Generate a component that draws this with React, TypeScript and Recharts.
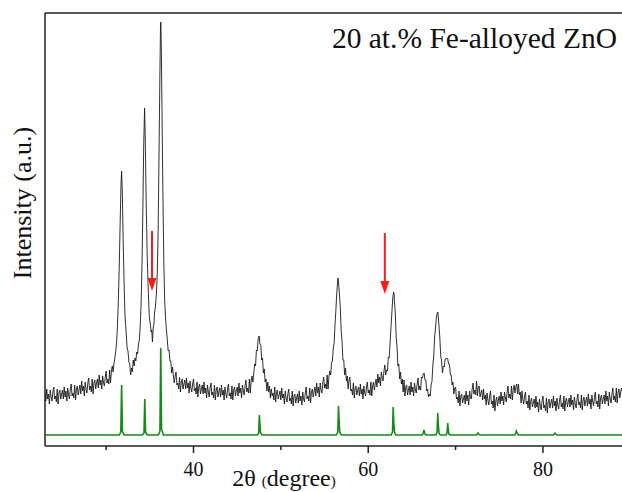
import { LineChart, Line, XAxis, YAxis, ReferenceLine, ReferenceDot } from "recharts";

// Measured pattern of the 20 at.% Fe-alloyed ZnO film: [2theta (deg), intensity (a.u.)]
const measured: [number, number][] = [
  [23.0, 54], [23.1, 45], [23.2, 57], [23.3, 47], [23.4, 52], [23.5, 42], [23.6, 56], [23.7, 49],
  [23.8, 45], [23.9, 54], [24.0, 59], [24.1, 47], [24.2, 50], [24.3, 44], [24.4, 57], [24.5, 42],
  [24.6, 53], [24.7, 56], [24.8, 47], [24.9, 52], [25.0, 56], [25.1, 47], [25.2, 59], [25.3, 49],
  [25.4, 55], [25.5, 45], [25.6, 58], [25.7, 51], [25.8, 47], [25.9, 57], [26.0, 62], [26.1, 50],
  [26.2, 53], [26.3, 48], [26.4, 61], [26.5, 46], [26.6, 57], [26.7, 60], [26.8, 51], [26.9, 56],
  [27.0, 61], [27.1, 52], [27.2, 65], [27.3, 55], [27.4, 60], [27.5, 50], [27.6, 64], [27.7, 57],
  [27.8, 53], [27.9, 63], [28.0, 68], [28.1, 56], [28.2, 60], [28.3, 54], [28.4, 67], [28.5, 52],
  [28.6, 63], [28.7, 66], [28.8, 57], [28.9, 63], [29.0, 67], [29.1, 58], [29.2, 71], [29.3, 61],
  [29.4, 66], [29.5, 57], [29.6, 70], [29.7, 63], [29.8, 60], [29.9, 69], [30.0, 75], [30.1, 63],
  [30.2, 67], [30.3, 62], [30.4, 76], [30.5, 63], [30.6, 75], [30.7, 80], [30.8, 74], [30.9, 83],
  [31.0, 88], [31.1, 95], [31.2, 104], [31.3, 122], [31.4, 146], [31.5, 180], [31.6, 222], [31.7, 262],
  [31.77, 275], [31.85, 254], [31.95, 205], [32.05, 165], [32.15, 132], [32.3, 112], [32.4, 98],
  [32.5, 95], [32.6, 84], [32.7, 82], [32.8, 71], [32.9, 78], [33.0, 74], [33.1, 86], [33.2, 80],
  [33.3, 88], [33.4, 85], [33.5, 94], [33.6, 92], [33.7, 102], [33.8, 106], [33.9, 120], [34.0, 142],
  [34.1, 180], [34.2, 235], [34.3, 300], [34.4, 338], [34.48, 305], [34.58, 245], [34.7, 190],
  [34.85, 148], [34.95, 128], [35.05, 122], [35.15, 114], [35.22, 116], [35.3, 104], [35.38, 118],
  [35.47, 122], [35.55, 134], [35.65, 140], [35.75, 152], [35.85, 172], [35.95, 215], [36.05, 290],
  [36.15, 370], [36.22, 418], [36.26, 424], [36.32, 395], [36.4, 330], [36.5, 250], [36.6, 185],
  [36.7, 145], [36.8, 128], [36.9, 116], [37.0, 106], [37.1, 95], [37.2, 96], [37.3, 85], [37.4, 85],
  [37.5, 73], [37.6, 79], [37.7, 70], [37.8, 63], [37.9, 70], [38.0, 74], [38.1, 61], [38.2, 63],
  [38.3, 57], [38.4, 69], [38.5, 54], [38.6, 64], [38.7, 67], [38.8, 57], [38.9, 62], [39.0, 66],
  [39.1, 57], [39.2, 68], [39.3, 58], [39.4, 63], [39.5, 53], [39.6, 65], [39.7, 58], [39.8, 54],
  [39.9, 62], [40.0, 67], [40.1, 55], [40.2, 58], [40.3, 52], [40.4, 64], [40.5, 49], [40.6, 59],
  [40.7, 62], [40.8, 52], [40.9, 57], [41.0, 61], [41.1, 52], [41.2, 64], [41.3, 53], [41.4, 58],
  [41.5, 48], [41.6, 61], [41.7, 54], [41.8, 49], [41.9, 58], [42.0, 63], [42.1, 51], [42.2, 54],
  [42.3, 48], [42.4, 61], [42.5, 46], [42.6, 56], [42.7, 59], [42.8, 49], [42.9, 54], [43.0, 58],
  [43.1, 49], [43.2, 61], [43.3, 51], [43.4, 56], [43.5, 46], [43.6, 59], [43.7, 52], [43.8, 48],
  [43.9, 57], [44.0, 62], [44.1, 50], [44.2, 53], [44.3, 47], [44.4, 60], [44.5, 46], [44.6, 56],
  [44.7, 59], [44.8, 50], [44.9, 55], [45.0, 59], [45.1, 50], [45.2, 63], [45.3, 53], [45.4, 58],
  [45.5, 48], [45.6, 61], [45.7, 55], [45.8, 51], [45.9, 60], [46.0, 66], [46.1, 54], [46.2, 58],
  [46.3, 53], [46.4, 67], [46.5, 53], [46.6, 65], [46.7, 70], [46.8, 64], [46.9, 73], [47.0, 82],
  [47.1, 80], [47.2, 96], [47.3, 95], [47.4, 107], [47.5, 110], [47.55, 108], [47.6, 102], [47.7, 101],
  [47.8, 86], [47.9, 88], [48.0, 73], [48.1, 77], [48.2, 64], [48.3, 67], [48.4, 55], [48.5, 64],
  [48.6, 54], [48.7, 60], [48.8, 48], [48.9, 57], [49.0, 50], [49.1, 53], [49.2, 46], [49.3, 59],
  [49.4, 44], [49.5, 53], [49.6, 56], [49.7, 47], [49.8, 51], [49.9, 55], [50.0, 46], [50.1, 58],
  [50.2, 48], [50.3, 52], [50.4, 42], [50.5, 55], [50.6, 48], [50.7, 44], [50.8, 52], [50.9, 57],
  [51.0, 45], [51.1, 48], [51.2, 42], [51.3, 55], [51.4, 40], [51.5, 50], [51.6, 52], [51.7, 43],
  [51.8, 48], [51.9, 52], [52.0, 43], [52.1, 55], [52.2, 45], [52.3, 50], [52.4, 41], [52.5, 54],
  [52.6, 47], [52.7, 44], [52.8, 53], [52.9, 59], [53.0, 47], [53.1, 50], [53.2, 45], [53.3, 58],
  [53.4, 43], [53.5, 54], [53.6, 57], [53.7, 49], [53.8, 54], [53.9, 59], [54.0, 50], [54.1, 63],
  [54.2, 53], [54.3, 59], [54.4, 49], [54.5, 63], [54.6, 56], [54.7, 53], [54.8, 63], [54.9, 69],
  [55.0, 58], [55.1, 62], [55.2, 57], [55.3, 71], [55.4, 57], [55.5, 69], [55.6, 75], [55.7, 71],
  [55.8, 83], [55.9, 85], [56.0, 98], [56.1, 103], [56.2, 122], [56.3, 136], [56.4, 153], [56.5, 165],
  [56.55, 168], [56.6, 164], [56.7, 152], [56.8, 139], [56.9, 116], [57.0, 105], [57.1, 86], [57.2, 86],
  [57.3, 71], [57.4, 78], [57.5, 65], [57.6, 70], [57.7, 57], [57.8, 66], [57.9, 69], [58.0, 55],
  [58.1, 57], [58.2, 51], [58.3, 63], [58.4, 48], [58.5, 58], [58.6, 60], [58.7, 51], [58.8, 56],
  [58.9, 59], [59.0, 50], [59.1, 62], [59.2, 52], [59.3, 57], [59.4, 47], [59.5, 60], [59.6, 53],
  [59.7, 50], [59.8, 59], [59.9, 64], [60.0, 53], [60.1, 56], [60.2, 51], [60.3, 64], [60.4, 50],
  [60.5, 60], [60.6, 64], [60.7, 56], [60.8, 62], [60.9, 67], [61.0, 59], [61.1, 72], [61.2, 63],
  [61.3, 69], [61.4, 60], [61.5, 74], [61.6, 68], [61.7, 65], [61.8, 75], [61.9, 81], [62.0, 71],
  [62.1, 76], [62.2, 75], [62.3, 89], [62.4, 88], [62.5, 103], [62.6, 118], [62.7, 132], [62.8, 147],
  [62.9, 154], [62.95, 153], [63.0, 145], [63.1, 133], [63.2, 109], [63.3, 99], [63.4, 80], [63.5, 82],
  [63.6, 67], [63.7, 74], [63.8, 62], [63.9, 67], [64.0, 54], [64.1, 66], [64.2, 50], [64.3, 59],
  [64.4, 61], [64.5, 51], [64.6, 56], [64.7, 60], [64.8, 51], [64.9, 64], [65.0, 54], [65.1, 59],
  [65.2, 50], [65.3, 63], [65.4, 56], [65.5, 53], [65.6, 62], [65.7, 68], [65.8, 56], [65.9, 60],
  [66.0, 56], [66.1, 69], [66.2, 68], [66.3, 72], [66.4, 73], [66.5, 66], [66.6, 66], [66.7, 55],
  [66.8, 57], [66.9, 49], [67.0, 52], [67.1, 50], [67.2, 61], [67.3, 65], [67.4, 81], [67.5, 90],
  [67.6, 109], [67.7, 118], [67.8, 128], [67.9, 133], [67.96, 134], [68.0, 131], [68.1, 120],
  [68.2, 108], [68.3, 90], [68.4, 85], [68.5, 73], [68.6, 80], [68.7, 79], [68.8, 87], [68.9, 87],
  [69.0, 88], [69.1, 87], [69.2, 82], [69.3, 82], [69.4, 71], [69.5, 71], [69.6, 61], [69.7, 64],
  [69.8, 52], [69.9, 58], [70.0, 59], [70.1, 47], [70.2, 49], [70.3, 43], [70.4, 55], [70.5, 40],
  [70.6, 50], [70.7, 52], [70.8, 43], [70.9, 47], [71.0, 51], [71.1, 42], [71.2, 55], [71.3, 45],
  [71.4, 51], [71.5, 41], [71.6, 55], [71.7, 49], [71.8, 47], [71.9, 57], [72.0, 63], [72.1, 52],
  [72.2, 56], [72.3, 51], [72.4, 65], [72.5, 50], [72.6, 59], [72.7, 60], [72.8, 49], [72.9, 53],
  [73.0, 56], [73.1, 46], [73.2, 57], [73.3, 47], [73.4, 51], [73.5, 41], [73.6, 53], [73.7, 46],
  [73.8, 41], [73.9, 50], [74.0, 55], [74.1, 42], [74.2, 45], [74.3, 38], [74.4, 51], [74.5, 35],
  [74.6, 45], [74.7, 49], [74.8, 40], [74.9, 46], [75.0, 50], [75.1, 42], [75.2, 54], [75.3, 45],
  [75.4, 50], [75.5, 41], [75.6, 54], [75.7, 48], [75.8, 44], [75.9, 54], [76.0, 60], [76.1, 48],
  [76.2, 52], [76.3, 47], [76.4, 60], [76.5, 46], [76.6, 57], [76.7, 61], [76.8, 53], [76.9, 59],
  [77.0, 62], [77.1, 52], [77.2, 62], [77.3, 51], [77.4, 54], [77.5, 43], [77.6, 55], [77.7, 47],
  [77.8, 42], [77.9, 50], [78.0, 54], [78.1, 42], [78.2, 45], [78.3, 38], [78.4, 51], [78.5, 36],
  [78.6, 45], [78.7, 48], [78.8, 39], [78.9, 43], [79.0, 47], [79.1, 38], [79.2, 50], [79.3, 39],
  [79.4, 44], [79.5, 34], [79.6, 47], [79.7, 40], [79.8, 36], [79.9, 45], [80.0, 50], [80.1, 38],
  [80.2, 41], [80.3, 35], [80.4, 48], [80.5, 33], [80.6, 44], [80.7, 47], [80.8, 38], [80.9, 43],
  [81.0, 47], [81.1, 38], [81.2, 50], [81.3, 40], [81.4, 45], [81.5, 35], [81.6, 48], [81.7, 41],
  [81.8, 37], [81.9, 46], [82.0, 51], [82.1, 39], [82.2, 43], [82.3, 37], [82.4, 50], [82.5, 35],
  [82.6, 45], [82.7, 48], [82.8, 39], [82.9, 44], [83.0, 48], [83.1, 39], [83.2, 51], [83.3, 41],
  [83.4, 46], [83.5, 36], [83.6, 49], [83.7, 42], [83.8, 38], [83.9, 47], [84.0, 52], [84.1, 41],
  [84.2, 44], [84.3, 38], [84.4, 51], [84.5, 36], [84.6, 46], [84.7, 49], [84.8, 40], [84.9, 45],
  [85.0, 49], [85.1, 40], [85.2, 52], [85.3, 42], [85.4, 47], [85.5, 37], [85.6, 51], [85.7, 44],
  [85.8, 40], [85.9, 49], [86.0, 54], [86.1, 42], [86.2, 45], [86.3, 39], [86.4, 52], [86.5, 37],
  [86.6, 48], [86.7, 51], [86.8, 42], [86.9, 47], [87.0, 51], [87.1, 42], [87.2, 55], [87.3, 45],
  [87.4, 50], [87.5, 40], [87.6, 54], [87.7, 47], [87.8, 43], [87.9, 52], [88.0, 58], [88.1, 46],
  [88.2, 50], [88.3, 44], [88.4, 58], [88.5, 43], [88.6, 54], [88.7, 57], [88.8, 48], [88.9, 54],
  [89.0, 58], [89.05, 55],
];

// Reference ZnO pattern (green), drawn as narrow peaks on a flat base
const reference: [number, number][] = [
  [23.0, 11], [31.5, 11], [31.68, 14], [31.77, 61], [31.86, 15], [32.05, 11],
  [34.15, 11], [34.33, 13], [34.42, 47], [34.51, 14], [34.7, 11],
  [35.98, 11], [36.16, 15], [36.25, 98], [36.34, 17], [36.55, 11],
  [47.3, 11], [47.46, 13], [47.54, 31], [47.6, 22], [47.68, 13], [47.85, 11],
  [56.35, 11], [56.52, 14], [56.6, 40], [56.66, 26], [56.74, 14], [56.9, 11],
  [62.62, 11], [62.78, 14], [62.86, 39], [62.92, 25], [63.0, 14], [63.15, 11],
  [66.2, 11], [66.3, 13], [66.38, 16], [66.5, 12], [66.62, 11],
  [67.75, 11], [67.88, 14], [67.96, 33], [68.02, 22], [68.1, 13], [68.25, 11],
  [68.9, 11], [69.02, 13], [69.1, 23], [69.16, 17], [69.24, 12], [69.4, 11],
  [72.4, 11], [72.5, 12], [72.56, 13], [72.66, 12], [72.8, 11],
  [76.78, 11], [76.88, 13], [76.95, 15], [77.05, 13], [77.18, 11],
  [81.2, 11], [81.3, 12], [81.37, 13], [81.47, 12], [81.6, 11],
  [89.05, 11],
];

const measuredData = measured.map(([x, y]) => ({ x, y }));
const referenceData = reference.map(([x, y]) => ({ x, y }));

// Red arrows marking the extra reflections: position, tail and tip heights
const arrows = [
  { x: 35.25, tail: 215, tip: 155 },
  { x: 61.9, tail: 213, tip: 152 },
];

const xTicks = [30, 40, 50, 60, 70, 80];
const serif = "'Liberation Serif', 'Times New Roman', serif";

function XTick(props: any) {
  const { x, y, payload } = props;
  const major = payload.value % 20 === 0;
  return (
    <g>
      <line x1={x} x2={x} y1={y} y2={y + (major ? 7 : 4)} stroke="#222" strokeWidth={1.5} />
      {major && (
        <text x={x} y={y + 30} textAnchor="middle" fontSize={20} fontFamily={serif} fill="#111">
          {payload.value}
        </text>
      )}
    </g>
  );
}

function ArrowHead(props: any) {
  const { cx, cy } = props;
  return <path d={`M${cx - 4.5},${cy - 13} L${cx + 4.5},${cy - 13} L${cx},${cy} Z`} fill="#ff1a1a" />;
}

export default function App() {
  return (
    <div style={{ position: "absolute", left: 0, top: 0 }}>
      <LineChart width={622} height={492} margin={{ top: 13, right: 0, bottom: 0, left: 0 }}>
        <XAxis
          type="number"
          dataKey="x"
          domain={[23, 89.05]}
          ticks={xTicks}
          allowDataOverflow
          height={46}
          tickSize={0}
          tickMargin={0}
          tickLine={false}
          tick={<XTick />}
          stroke="#222"
          strokeWidth={1.5}
        />
        <YAxis
          type="number"
          dataKey="y"
          domain={[0, 433]}
          width={45}
          tick={false}
          tickLine={false}
          stroke="#222"
          strokeWidth={1.5}
        />
        <ReferenceLine y={433} stroke="#222" strokeWidth={1.5} />
        <Line
          data={referenceData}
          dataKey="y"
          type="linear"
          stroke="#168a16"
          strokeWidth={1.6}
          dot={false}
          isAnimationActive={false}
        />
        <Line
          data={measuredData}
          dataKey="y"
          type="linear"
          stroke="#1a1a1a"
          strokeWidth={0.9}
          dot={false}
          isAnimationActive={false}
        />
        {arrows.map((a, i) => (
          <ReferenceLine
            key={`s${i}`}
            segment={[
              { x: a.x, y: a.tail },
              { x: a.x, y: a.tip + 10 },
            ]}
            stroke="#ff1a1a"
            strokeWidth={2}
          />
        ))}
        {arrows.map((a, i) => (
          <ReferenceDot key={`h${i}`} x={a.x} y={a.tip} r={5} shape={<ArrowHead />} />
        ))}
        <text x={617} y={48} textAnchor="end" fontSize={29.5} fontFamily={serif} fill="#111">
          20 at.% Fe-alloyed ZnO
        </text>
        <text
          x={31}
          y={203}
          transform="rotate(-90 31 203)"
          textAnchor="middle"
          fontSize={26}
          fontFamily={serif}
          fill="#111"
        >
          Intensity (a.u.)
        </text>
        <text x={284} y={486} textAnchor="middle" fontFamily={serif} fill="#111" fontSize={24}>
          2θ <tspan fontSize={15}>(</tspan>degree<tspan fontSize={15}>)</tspan>
        </text>
      </LineChart>
    </div>
  );
}
